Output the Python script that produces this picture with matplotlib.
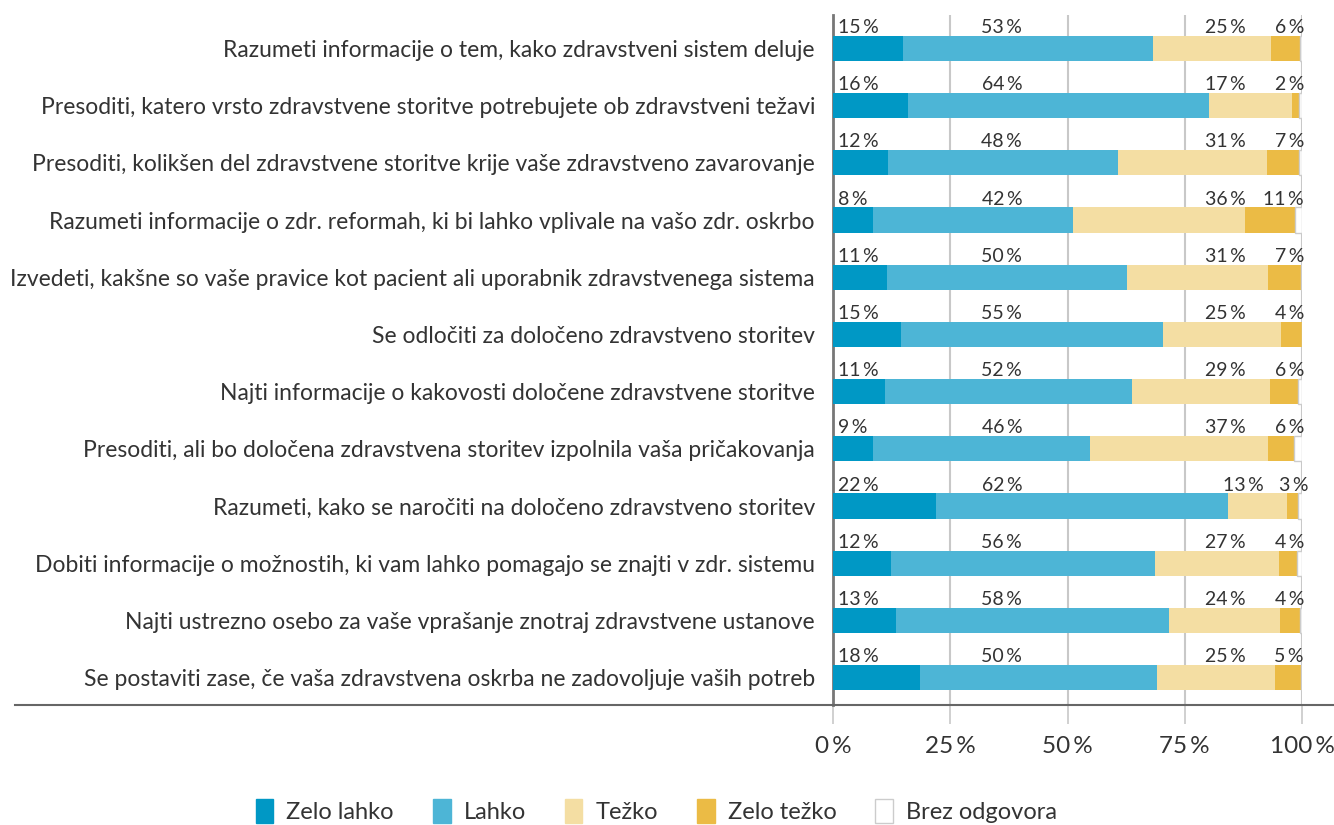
import matplotlib
matplotlib.use('Agg')
import matplotlib.pyplot as plt
import matplotlib.patches as mpatches
from matplotlib.lines import Line2D
import numpy as np

# ---- data ----
categories = [
    'Razumeti informacije o tem, kako zdravstveni sistem deluje',
    'Presoditi, katero vrsto zdravstvene storitve potrebujete ob zdravstveni težavi',
    'Presoditi, kolikšen del zdravstvene storitve krije vaše zdravstveno zavarovanje',
    'Razumeti informacije o zdr. reformah, ki bi lahko vplivale na vašo zdr. oskrbo',
    'Izvedeti, kakšne so vaše pravice kot pacient ali uporabnik zdravstvenega sistema',
    'Se odločiti za določeno zdravstveno storitev',
    'Najti informacije o kakovosti določene zdravstvene storitve',
    'Presoditi, ali bo določena zdravstvena storitev izpolnila vaša pričakovanja',
    'Razumeti, kako se naročiti na določeno zdravstveno storitev',
    'Dobiti informacije o možnostih, ki vam lahko pomagajo se znajti v zdr. sistemu',
    'Najti ustrezno osebo za vaše vprašanje znotraj zdravstvene ustanove',
    'Se postaviti zase, če vaša zdravstvena oskrba ne zadovoljuje vaših potreb',
]
series_names = ['Zelo lahko', 'Lahko', 'Težko', 'Zelo težko', 'Brez odgovora']

# bar lengths (%)
zelo_lahko = [15.0, 16.0, 11.8, 8.5, 11.5, 14.5, 11.1, 8.5, 22.0, 12.4, 13.5, 18.6]
lahko      = [53.2, 64.1, 48.9, 42.6, 51.1, 55.8, 52.6, 46.4, 62.2, 56.2, 58.1, 50.4]
tezko      = [25.2, 17.7, 31.8, 36.7, 30.1, 25.2, 29.5, 37.8, 12.6, 26.5, 23.7, 25.2]
zelo_tezko = [6.1, 1.6, 6.9, 10.8, 7.1, 4.5, 5.9, 5.7, 2.3, 3.8, 4.3, 5.6]
brez       = [0.5, 0.7, 0.6, 1.4, 0.2, 0.1, 0.9, 1.6, 0.9, 1.1, 0.4, 0.2]

# printed labels
lbl_zelo_lahko = [15, 16, 12, 8, 11, 15, 11, 9, 22, 12, 13, 18]
lbl_lahko      = [53, 64, 48, 42, 50, 55, 52, 46, 62, 56, 58, 50]
lbl_tezko      = [25, 17, 31, 36, 31, 25, 29, 37, 13, 27, 24, 25]
lbl_zelo_tezko = [6, 2, 7, 11, 7, 4, 6, 6, 3, 4, 4, 5]

xticks = [0, 25, 50, 75, 100]
xticklabels = ['0\u2009%', '25\u2009%', '50\u2009%', '75\u2009%', '100\u2009%']

# ---- style ----
colors = ['#0098c5', '#4db5d6', '#f4dea3', '#ebbb45', '#ffffff']
TXT = '#333333'
GRID = '#c8c8c8'
plt.rcParams['font.family'] = ['Lato', 'DejaVu Sans']

W, H = 1334, 825
fig = plt.figure(figsize=(W / 100, H / 100), dpi=100)
ax = fig.add_axes([833 / W, 1 - 705 / H, (1302 - 833) / W, (705 - 15) / H])

y = np.arange(len(categories))
bar_h = 0.44
left = np.zeros(len(categories))
for vals, col, name in zip([zelo_lahko, lahko, tezko, zelo_tezko, brez], colors, series_names):
    vals = np.array(vals)
    if name == 'Brez odgovora':
        ax.barh(y, vals, left=left, height=bar_h, color=col, edgecolor='#cccccc',
                linewidth=1, zorder=3)
    else:
        ax.barh(y, vals, left=left, height=bar_h, color=col, linewidth=0, zorder=3)
    left += vals

# value labels above bars (fixed columns)
fs_val = 14
for i in range(len(categories)):
    ty = i - bar_h / 2 - 0.05
    x3 = 91.8 if i == 8 else 88.0
    x4 = 101.3 if i == 8 else 100.4
    ax.text(1.1, ty, f'{lbl_zelo_lahko[i]}\u2009%', ha='left', va='baseline',
            fontsize=fs_val, color=TXT)
    ax.text(36.0, ty, f'{lbl_lahko[i]}\u2009%', ha='center', va='baseline',
            fontsize=fs_val, color=TXT)
    ax.text(x3, ty, f'{lbl_tezko[i]}\u2009%', ha='right', va='baseline',
            fontsize=fs_val, color=TXT)
    ax.text(x4, ty, f'{lbl_zelo_tezko[i]}\u2009%', ha='right', va='baseline',
            fontsize=fs_val, color=TXT)

ax.set_xlim(0, 100)
ax.set_ylim(11.48, -0.586)
ax.set_yticks(y)
ax.set_yticklabels(categories, fontsize=16.5, color=TXT)
ax.tick_params(axis='y', length=0, pad=13)
ax.set_xticks(xticks)
ax.set_xticklabels(xticklabels, fontsize=17.5, color=TXT)
ax.tick_params(axis='x', length=14, width=1.2, color=GRID, pad=8)
ax.grid(True, axis='x', color=GRID, lw=1.5, zorder=0)
ax.set_axisbelow(True)
for s in ['top', 'right', 'bottom']:
    ax.spines[s].set_visible(False)
ax.spines['left'].set_color('#777777')
ax.spines['left'].set_linewidth(2)

# long baseline under the chart
fig.add_artist(Line2D([15 / W, 1.0], [1 - 705 / H, 1 - 705 / H],
                      transform=fig.transFigure, color='#666666', lw=1.5))

handles = [mpatches.Patch(facecolor=c, edgecolor=('#cccccc' if c == '#ffffff' else c),
                          label=n) for c, n in zip(colors, series_names)]
fig.legend(handles=handles, loc='center', bbox_to_anchor=(0.492, 1 - 811 / H), ncol=5,
           frameon=False, fontsize=17, handlelength=0.75, handleheight=1.15,
           handletextpad=0.55, columnspacing=1.65, labelcolor=TXT)

plt.savefig('out.png', dpi=100)
